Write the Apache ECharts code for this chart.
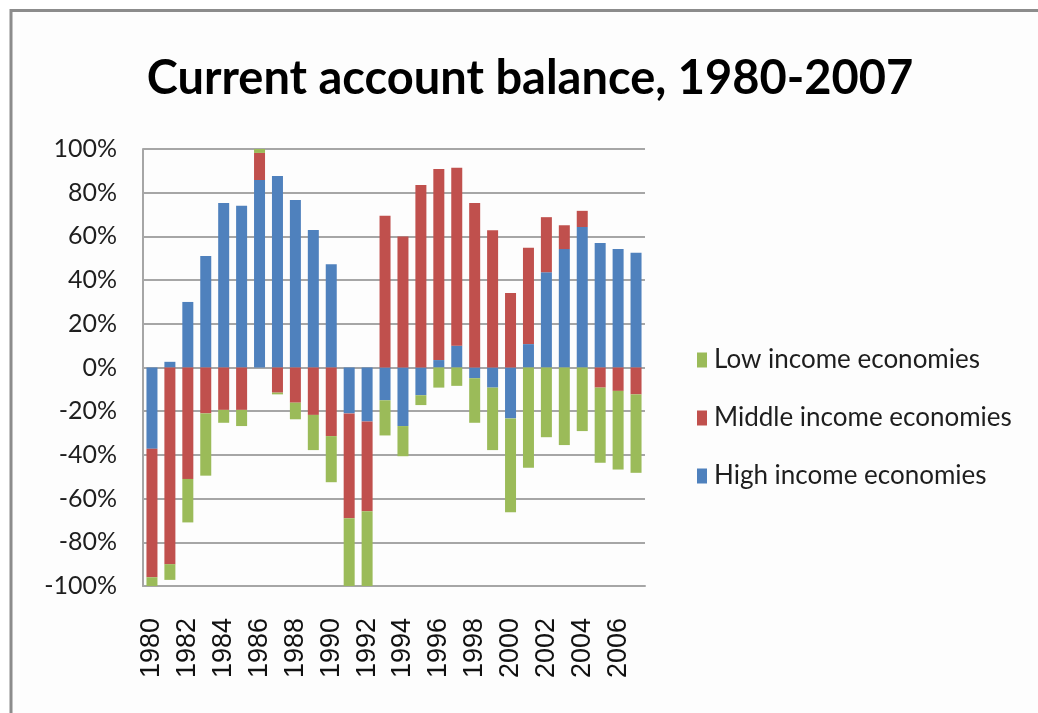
<!DOCTYPE html>
<html>
<head>
<meta charset="utf-8">
<title>Current account balance, 1980-2007</title>
<script src="https://cdn.jsdelivr.net/npm/echarts@6/dist/echarts.min.js"></script>
<style>
  html, body { margin: 0; padding: 0; background: #ffffff; }
  #chart { width: 1038px; height: 713px; }
</style>
</head>
<body>
<div id="chart"></div>
<script>
// Years on the category axis
const years = [
  '1980','1981','1982','1983','1984','1985','1986','1987','1988','1989',
  '1990','1991','1992','1993','1994','1995','1996','1997','1998','1999',
  '2000','2001','2002','2003','2004','2005','2006','2007'
];

// Share of the world current account balance (%), by income group
const highIncome = [
  -37.2, 2.6, 30, 51, 75.3, 74, 85.8, 87.7, 76.7, 62.9,
  47.3, -21, -24.7, -15, -26.8, -12.7, 3.4, 10, -4.9, -9.2,
  -23.3, 10.7, 43.6, 54.2, 64.3, 57, 54.2, 52.5
];
const middleIncome = [
  -58.8, -90, -51, -21, -19.4, -19.4, 12.4, -11.5, -16.1, -21.7,
  -31.4, -48, -41.1, 69.4, 60, 83.5, 87.4, 81.4, 75.3, 62.8,
  34.1, 44.1, 25.2, 10.9, 7.4, -9.2, -10.7, -12.3
];
const lowIncome = [
  -4, -7.2, -19.9, -28.5, -5.9, -7.4, 1.8, -0.8, -7.6, -16.1,
  -21.1, -31, -34.2, -16.1, -13.8, -4.5, -9.2, -8.4, -20.4, -28.6,
  -43, -45.9, -31.9, -35.5, -29.1, -34.4, -36, -35.9
];

// Y axis tick settings (percent)
const yMin = -100, yMax = 100, yStep = 20;

const seriesNames = ['High income economies', 'Middle income economies', 'Low income economies'];
const seriesColors = ['#4F81BD', '#C0504D', '#9BBB59'];
const seriesData = [highIncome, middleIncome, lowIncome];

const chart = echarts.init(document.getElementById('chart'));

const gridColor = '#a6a6a6';

chart.setOption({
  backgroundColor: '#ffffff',
  animation: false,
  graphic: [{
    type: 'rect',
    shape: { x: 11, y: 10.5, width: 1200, height: 900 },
    style: { fill: '#fdfdfd', stroke: '#8c8c8c', lineWidth: 3 },
    z: -10
  }],
  title: {
    text: 'Current account balance, 1980-2007',
    left: 525,
    textAlign: 'center',
    top: 50,
    textStyle: {
      fontFamily: 'Lato',
      fontWeight: 'bold',
      fontSize: 47,
      color: '#000000'
    }
  },
  legend: {
    orient: 'vertical',
    left: 692,
    top: 342,
    itemWidth: 10,
    itemHeight: 15,
    itemGap: 32,
    icon: 'rect',
    data: ['Low income economies', 'Middle income economies', 'High income economies'],
    textStyle: {
      fontFamily: 'Lato',
      fontSize: 26,
      color: '#1e1e1e',
      padding: [0, 0, 0, 2]
    }
  },
  grid: {
    left: 143,
    right: 393,
    top: 149,
    bottom: 127,
    containLabel: false
  },
  xAxis: {
    type: 'category',
    data: years,
    position: 'bottom',
    axisLine: { show: true, onZero: false, lineStyle: { color: gridColor, width: 2 } },
    axisTick: { show: false },
    axisLabel: {
      interval: 1,
      rotate: 90,
      margin: 32,
      fontFamily: 'Liberation Sans',
      fontSize: 27,
      color: '#111111'
    },
    splitLine: { show: false }
  },
  yAxis: {
    type: 'value',
    min: yMin,
    max: yMax,
    interval: yStep,
    axisLine: { show: true, lineStyle: { color: gridColor, width: 2 } },
    axisTick: { show: false },
    axisLabel: {
      formatter: '{value}%',
      margin: 26,
      fontFamily: 'Lato',
      fontSize: 25,
      color: '#1e1e1e'
    },
    splitLine: { show: true, lineStyle: { color: gridColor, width: 2 } }
  },
  series: seriesNames.map((name, i) => ({
    name: name,
    type: 'bar',
    stack: 'balance',
    data: seriesData[i],
    barWidth: 11,
    itemStyle: { color: seriesColors[i] },
    emphasis: { disabled: true }
  }))
});
</script>
</body>
</html>
